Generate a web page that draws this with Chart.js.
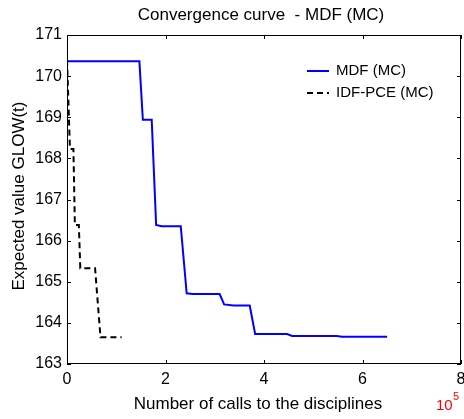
<!DOCTYPE html>
<html lang="en">
<head>
  <meta charset="UTF-8">
  <title>Convergence curve - MDF (MC)</title>
  <script src="https://cdn.jsdelivr.net/npm/chart.js"></script>
  <style>
    html, body { margin: 0; padding: 0; background: #fff; }
    #wrap { width: 464px; height: 419px; }
  </style>
</head>
<body>
  <div id="wrap"><canvas id="conv" width="464" height="419"></canvas></div>
  <script>
    // values (x in units of 10^5 calls)
    const mdfX = [0, 1.47, 1.54, 1.72, 1.81, 1.92, 2.31, 2.43, 2.55, 3.10, 3.19, 3.38, 3.71, 3.82, 4.47, 4.57, 5.48, 5.58, 6.50];
    const mdfY = [170.36, 170.36, 168.94, 168.94, 166.38, 166.35, 166.35, 164.72, 164.70, 164.70, 164.45, 164.42, 164.42, 163.73, 163.73, 163.68, 163.68, 163.66, 163.66];
    const idfX = [0, 0.06, 0.13, 0.16, 0.24, 0.27, 0.57, 0.68, 1.11];
    const idfY = [170.4, 168.23, 168.23, 166.38, 166.38, 165.33, 165.33, 163.65, 163.65];
    const xTicks = [0, 2, 4, 6, 8];
    const yTicks = [163, 164, 165, 166, 167, 168, 169, 170, 171];
    const labels = ['MDF (MC)', 'IDF-PCE (MC)'];

    const FONT = 'Liberation Sans, Arial, sans-serif';

    const toPts = (xs, ys) => xs.map((x, i) => ({ x: x, y: ys[i] }));

    // box, inward ticks, legend and texts in the matlab style
    const matlabLook = {
      id: 'matlabLook',
      afterDraw(chart) {
        const ctx = chart.ctx;
        const a = chart.chartArea;
        const sx = chart.scales.x, sy = chart.scales.y;
        ctx.save();
        ctx.strokeStyle = '#000';
        ctx.lineWidth = 1;
        ctx.strokeRect(a.left + 0.5, a.top + 0.5, a.right - a.left - 1, a.bottom - a.top - 1);
        ctx.beginPath();
        xTicks.forEach(v => {
          const p = Math.round(sx.getPixelForValue(v)) + 0.5;
          ctx.moveTo(p, a.bottom); ctx.lineTo(p, a.bottom - 4);
          ctx.moveTo(p, a.top); ctx.lineTo(p, a.top + 4);
        });
        yTicks.forEach(v => {
          const p = Math.round(sy.getPixelForValue(v)) + 0.5;
          ctx.moveTo(a.left, p); ctx.lineTo(a.left + 4, p);
          ctx.moveTo(a.right, p); ctx.lineTo(a.right - 4, p);
        });
        ctx.stroke();

        // legend
        ctx.font = '15px ' + FONT;
        ctx.textBaseline = 'middle';
        ctx.textAlign = 'left';
        chart.data.datasets.forEach((ds, i) => {
          const y = 71 + i * 22;
          ctx.beginPath();
          ctx.strokeStyle = ds.borderColor;
          ctx.lineWidth = ds.borderWidth;
          ctx.setLineDash(ds.borderDash || []);
          ctx.moveTo(307, y); ctx.lineTo(329, y);
          ctx.stroke();
          ctx.setLineDash([]);
          ctx.fillStyle = '#000';
          ctx.fillText(ds.label, 336, y);
        });

        // title and axis labels
        ctx.fillStyle = '#000';
        ctx.textAlign = 'center';
        ctx.font = '17px ' + FONT;
        ctx.fillText('Convergence curve  - MDF (MC)', 261, 15);
        ctx.fillText('Number of calls to the disciplines', 258, 404);
        ctx.save();
        ctx.translate(19, 196);
        ctx.rotate(-Math.PI / 2);
        ctx.fillText('Expected value GLOW(t)', 0, 0);
        ctx.restore();

        // exponent
        ctx.fillStyle = '#ff0000';
        ctx.textAlign = 'left';
        ctx.font = '15px ' + FONT;
        ctx.fillText('10', 436, 406);
        ctx.font = '11px ' + FONT;
        ctx.fillText('5', 453, 397);
        ctx.restore();
      }
    };

    new Chart(document.getElementById('conv'), {
      type: 'line',
      data: {
        datasets: [{
          label: labels[0],
          data: toPts(mdfX, mdfY),
          borderColor: '#0000ff',
          borderWidth: 2,
          pointRadius: 0,
          tension: 0,
          fill: false
        }, {
          label: labels[1],
          data: toPts(idfX, idfY),
          borderColor: '#000000',
          borderWidth: 2,
          borderDash: [6, 4],
          pointRadius: 0,
          tension: 0,
          fill: false
        }]
      },
      options: {
        responsive: false,
        animation: false,
        events: [],
        layout: { padding: { top: 35, right: 3, left: 0, bottom: 0 } },
        plugins: { legend: { display: false }, title: { display: false }, tooltip: { enabled: false } },
        scales: {
          x: {
            type: 'linear',
            min: 0, max: 8,
            afterBuildTicks: s => { s.ticks = xTicks.map(v => ({ value: v })); },
            afterFit: s => { s.height = 55; s.paddingLeft = 0; s.paddingRight = 0; },
            grid: { display: false, drawTicks: false },
            border: { display: false },
            ticks: { color: '#000', padding: 6, font: { family: FONT, size: 16 } }
          },
          y: {
            type: 'linear',
            min: 163, max: 171,
            afterBuildTicks: s => { s.ticks = yTicks.map(v => ({ value: v })); },
            afterFit: s => { s.width = 67; s.paddingTop = 0; s.paddingBottom = 0; },
            grid: { display: false, drawTicks: false },
            border: { display: false },
            ticks: { color: '#000', padding: 5, font: { family: FONT, size: 16 } }
          }
        }
      },
      plugins: [matlabLook]
    });
  </script>
</body>
</html>
